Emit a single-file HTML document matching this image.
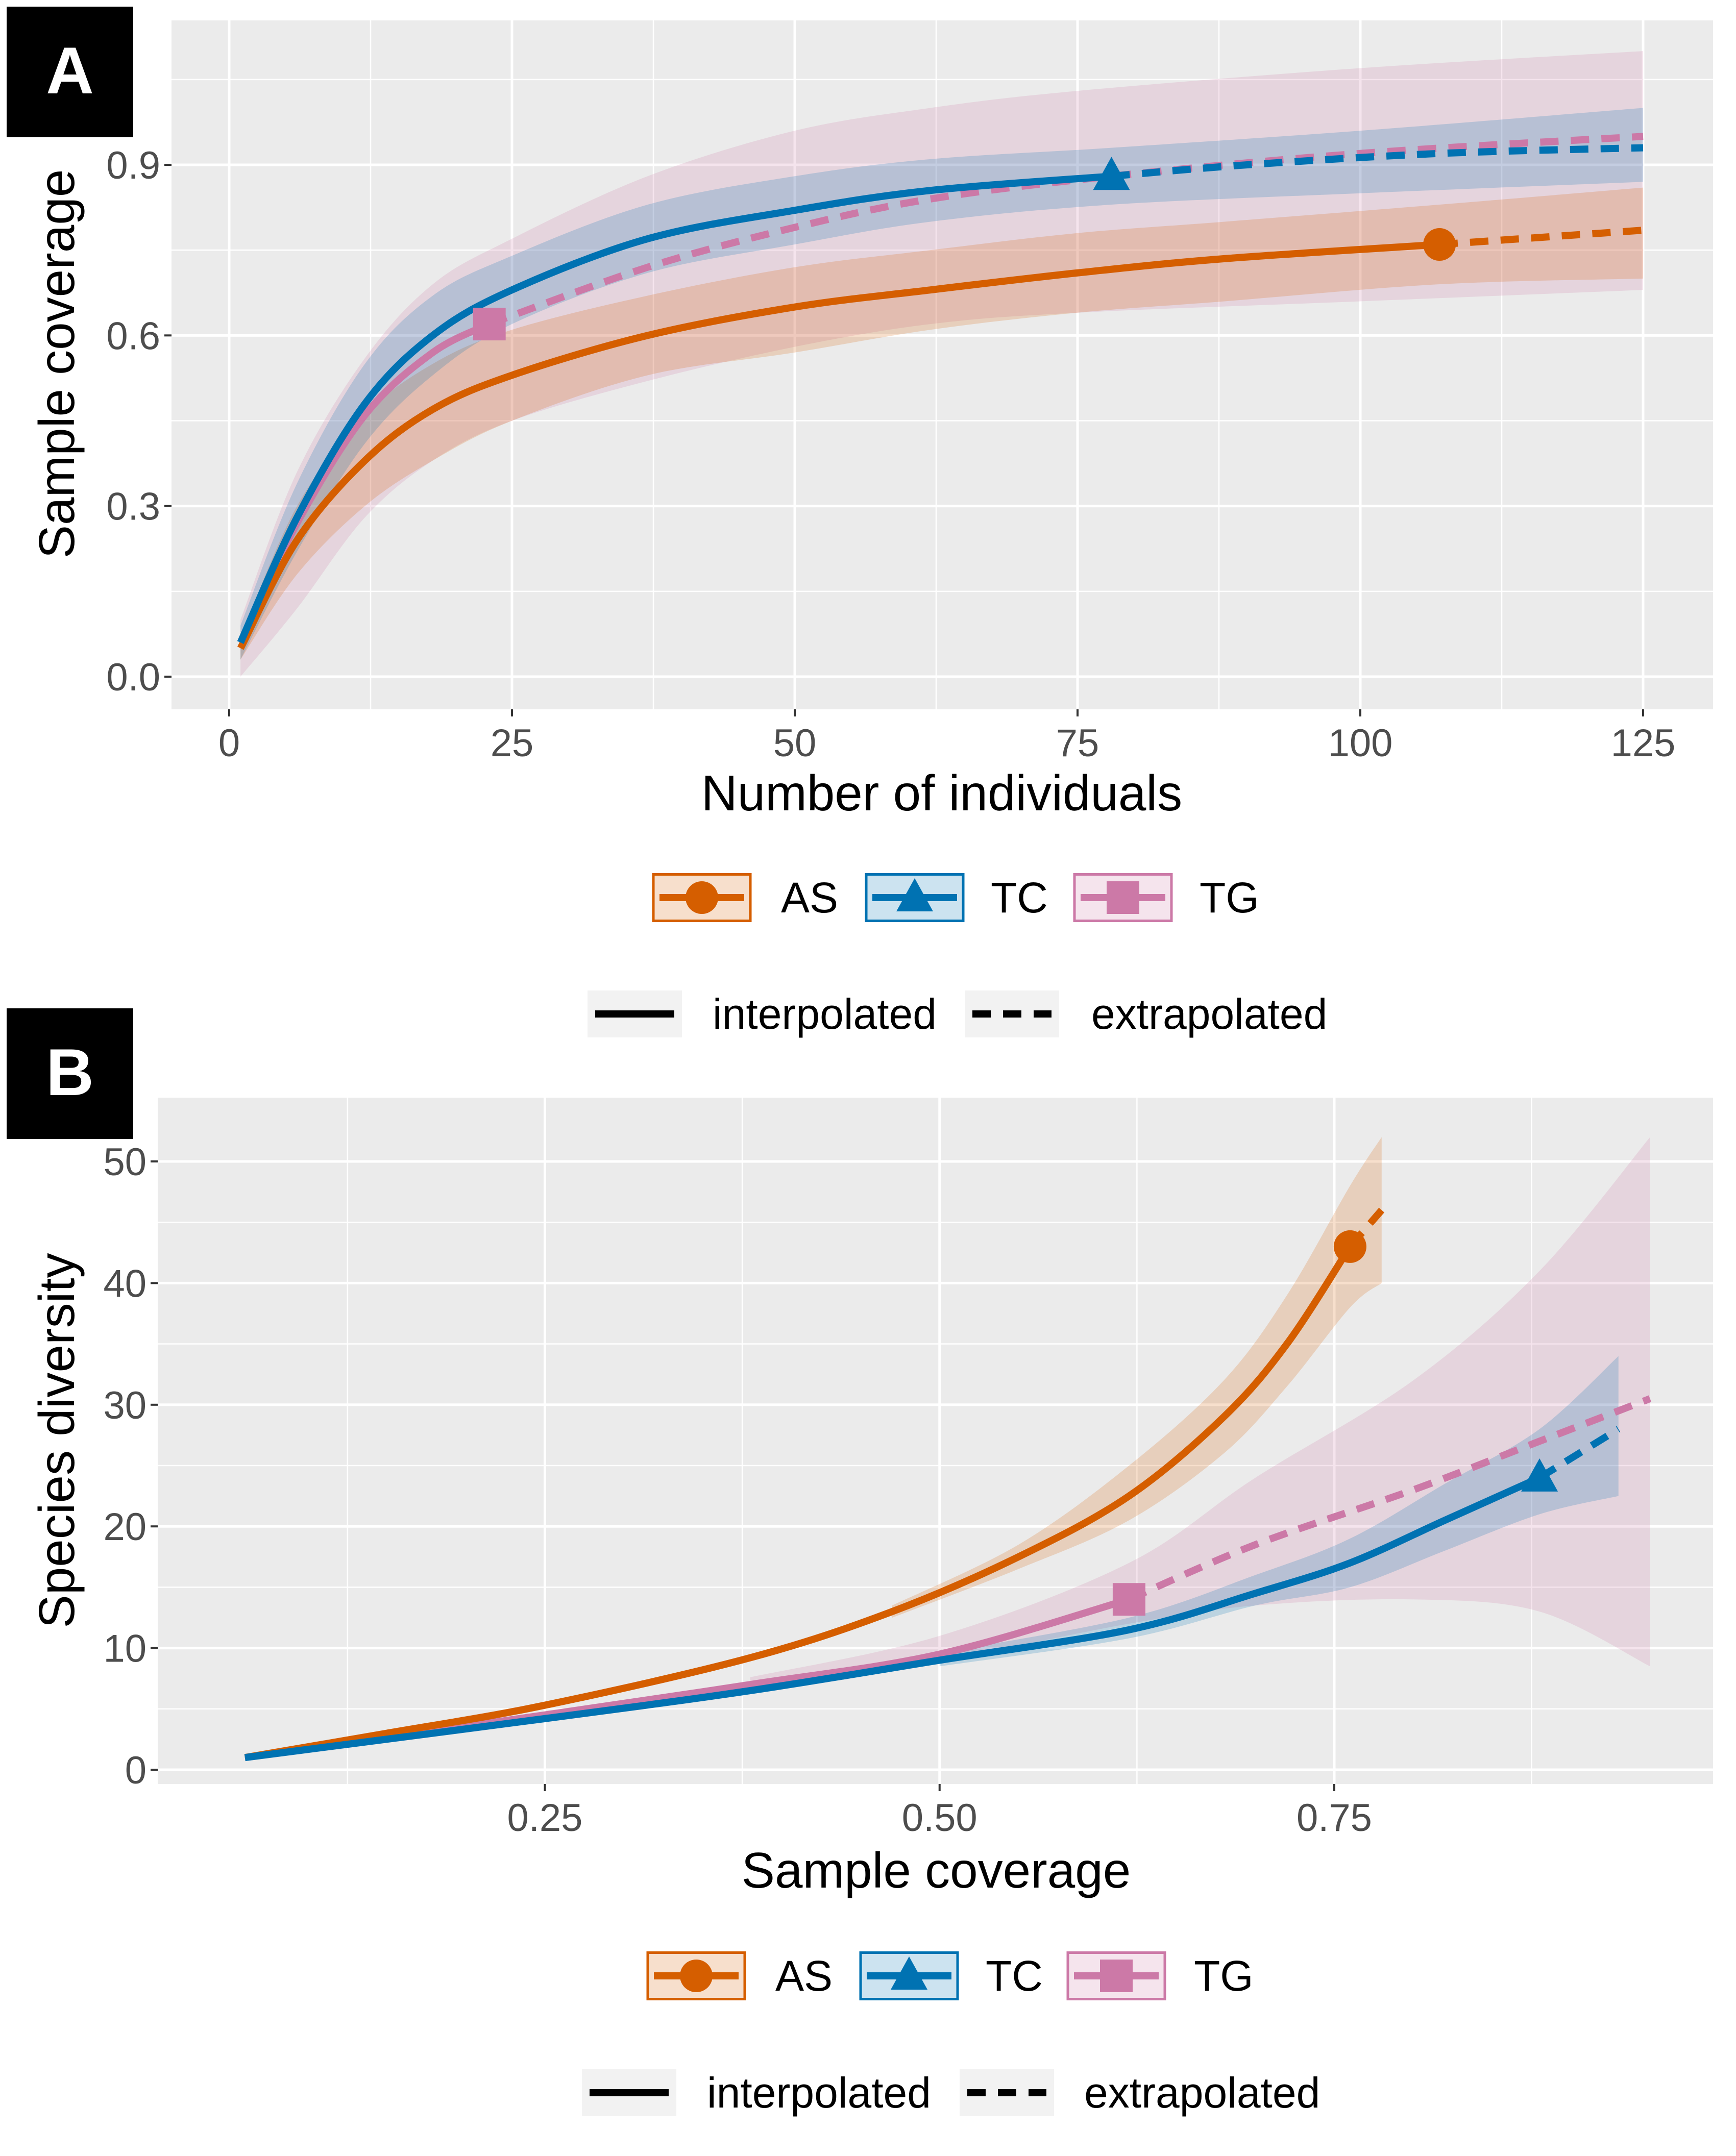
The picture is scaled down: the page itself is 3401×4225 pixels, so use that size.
<!DOCTYPE html>
<html><head><meta charset="utf-8">
<style>
html,body{margin:0;padding:0;background:#fff;}
svg{display:block;font-family:"Liberation Sans",sans-serif;}
</style></head>
<body>
<svg id="fig" width="3401" height="4225" viewBox="0 0 3401 4225" xmlns="http://www.w3.org/2000/svg">
<rect x="0" y="0" width="3401" height="4225" fill="#fff"/>
<g id="panelA"></g>
<g id="panelB"></g>
</svg>
<script>
// ---------- Panel A data ----------
const aAS_x = [1,6,12,18,25,37,50,62,75,88,107];
const aAS_y = [0.05,0.24,0.38,0.47,0.53,0.60,0.65,0.68,0.71,0.735,0.76];
const aAS_ex = [107,125];
const aAS_ey = [0.76,0.785];
const aAS_bx = [1,6,12,18,25,37,50,62,75,88,107,125];
const aAS_lo = [0.03,0.18,0.30,0.38,0.45,0.53,0.57,0.61,0.64,0.66,0.69,0.70];
const aAS_hi = [0.07,0.30,0.46,0.55,0.61,0.67,0.72,0.75,0.78,0.80,0.83,0.86];
const aTC_x = [1,6,12,18,25,37,50,62,78];
const aTC_y = [0.06,0.28,0.48,0.60,0.68,0.77,0.82,0.855,0.88];
const aTC_ex = [78,90,107,125];
const aTC_ey = [0.88,0.90,0.92,0.93];
const aTC_bx = [1,6,12,18,25,37,50,62,78,100,125];
const aTC_lo = [0.03,0.22,0.41,0.53,0.62,0.71,0.76,0.80,0.83,0.85,0.87];
const aTC_hi = [0.09,0.34,0.55,0.67,0.74,0.83,0.88,0.91,0.93,0.96,1.00];
const aTG_x = [1,6,12,18,23];
const aTG_y = [0.06,0.27,0.46,0.57,0.62];
const aTG_ex = [23,37,50,62,78,100,125];
const aTG_ey = [0.62,0.72,0.79,0.84,0.88,0.92,0.95];
const aTG_bx = [1,6,12,18,25,37,50,62,75,100,125];
const aTG_lo = [0.0,0.12,0.28,0.38,0.45,0.52,0.58,0.62,0.64,0.66,0.68];
const aTG_hi = [0.10,0.36,0.56,0.69,0.77,0.88,0.96,1.00,1.03,1.07,1.10];
const aXTicks = [0,25,50,75,100,125];
const aXMinor = [12.5,37.5,62.5,87.5,112.5];
const aYTicks = [0,0.3,0.6,0.9];
const aYLabels = ["0.0","0.3","0.6","0.9"];
const aYMinor = [0.15,0.45,0.75,1.05];

// ---------- Panel B data ----------
const bAS_x = [0.06,0.15,0.25,0.38,0.47,0.55,0.62,0.68,0.72,0.76];
const bAS_y = [1,3,5.3,9.2,13,17.5,22.5,29,35,43];
const bAS_ex = [0.76,0.78];
const bAS_ey = [43,46];
const bAS_bx = [0.47,0.55,0.62,0.68,0.72,0.76,0.78];
const bAS_lo = [12.5,16.5,20.5,26,31.5,38,40];
const bAS_hi = [13.5,18.5,25,32,39,48,52];
const bTC_x = [0.06,0.25,0.38,0.5,0.62,0.7,0.76,0.82,0.88];
const bTC_y = [1,4.2,6.5,9,11.5,14.5,17,20.5,24];
const bTC_ex = [0.88,0.93];
const bTC_ey = [24,28];
const bTC_bx = [0.5,0.62,0.7,0.76,0.82,0.88,0.93];
const bTC_lo = [8.5,10.8,13.5,15,18,21,22.5];
const bTC_hi = [9.6,12.5,16,19,23.5,28,34];
const bTG_x = [0.06,0.25,0.38,0.5,0.62];
const bTG_y = [1,4.5,7,9.5,14];
const bTG_ex = [0.62,0.7,0.8,0.88,0.95];
const bTG_ey = [14,18.5,23,27,30.5];
const bTG_bx = [0.38,0.5,0.62,0.7,0.8,0.88,0.95];
const bTG_lo = [6.8,9,12,13.5,14,13,8.5];
const bTG_hi = [7.6,11,17,24,32,41,52];
const bXTicks = [0.25,0.5,0.75];
const bXLabels = ["0.25","0.50","0.75"];
const bXMinor = [0.125,0.375,0.625,0.875];
const bYTicks = [0,10,20,30,40,50];
const bYMinor = [5,15,25,35,45];

const NS = "http://www.w3.org/2000/svg";
const C_AS = "#D55E00", C_TC = "#0072B2", C_TG = "#CC79A7";
const LW = 14;

function mk(parent, tag, attrs){
  const e = document.createElementNS(NS, tag);
  for (const k in attrs) e.setAttribute(k, attrs[k]);
  parent.appendChild(e);
  return e;
}
function smoothPath(pts){
  let d = "M" + pts[0][0] + "," + pts[0][1];
  for (let i = 0; i < pts.length - 1; i++){
    const p0 = pts[Math.max(0,i-1)], p1 = pts[i], p2 = pts[i+1], p3 = pts[Math.min(pts.length-1,i+2)];
    const c1x = p1[0] + (p2[0]-p0[0])/6, c1y = p1[1] + (p2[1]-p0[1])/6;
    const c2x = p2[0] - (p3[0]-p1[0])/6, c2y = p2[1] - (p3[1]-p1[1])/6;
    d += " C" + c1x + "," + c1y + " " + c2x + "," + c2y + " " + p2[0] + "," + p2[1];
  }
  return d;
}
function bandPath(xs, lo, hi, sx, sy){
  const top = xs.map((x,i)=>[sx(x), sy(hi[i])]);
  const bot = xs.map((x,i)=>[sx(x), sy(lo[i])]).reverse();
  let d = smoothPath(top);
  d += " L" + bot[0][0] + "," + bot[0][1];
  d += smoothPath(bot).replace(/^M[^C]*/, "");
  return d + " Z";
}
function marker(g, kind, cx, cy, color){
  let m;
  if (kind === "circle") m = mk(g, "circle", {cx:cx, cy:cy, r:32, fill:color});
  else if (kind === "triangle") m = mk(g, "polygon", {points:(cx)+","+(cy-38)+" "+(cx-36)+","+(cy+27)+" "+(cx+36)+","+(cy+27), fill:color});
  else m = mk(g, "rect", {x:cx-32, y:cy-32, width:64, height:64, fill:color});
  return m;
}

function drawPanel(g, cfg){
  const {px0,px1,py0,py1,sx,sy} = cfg;
  const bg = mk(g, "rect", {x:px0, y:py0, width:px1-px0, height:py1-py0, fill:"#EBEBEB"});
  
  
  cfg.xMinor.forEach(v=>{ const l = mk(g,"line",{x1:sx(v),x2:sx(v),y1:py0,y2:py1,stroke:"#fff","stroke-width":2.5});
      });
  cfg.yMinor.forEach(v=>{ const l = mk(g,"line",{x1:px0,x2:px1,y1:sy(v),y2:sy(v),stroke:"#fff","stroke-width":2.5});
      });
  cfg.xTicks.forEach((v,i)=>{
    const l = mk(g,"line",{x1:sx(v),x2:sx(v),y1:py0,y2:py1,stroke:"#fff","stroke-width":5});
     
    const t = mk(g,"line",{x1:sx(v),x2:sx(v),y1:py1,y2:py1+14,stroke:"#333","stroke-width":4});
     
    const tx = mk(g,"text",{x:sx(v), y:py1+92, "text-anchor":"middle","font-size":76, fill:"#4D4D4D"});
    tx.textContent = cfg.xLabels[i];
     
  });
  cfg.yTicks.forEach((v,i)=>{
    const l = mk(g,"line",{x1:px0,x2:px1,y1:sy(v),y2:sy(v),stroke:"#fff","stroke-width":5});
     
    const t = mk(g,"line",{x1:px0-14,x2:px0,y1:sy(v),y2:sy(v),stroke:"#333","stroke-width":4});
     
    const tx = mk(g,"text",{x:px0-22, y:sy(v)+27, "text-anchor":"end","font-size":76, fill:"#4D4D4D"});
    tx.textContent = cfg.yLabels[i];
     
  });
  const series = cfg.series;
  series.forEach(s=>{
    const b = mk(g,"path",{d:bandPath(s.bx,s.lo,s.hi,sx,sy), fill:s.color, "fill-opacity":0.2});
    
    
  });
  series.forEach(s=>{
    const e = mk(g,"path",{d:smoothPath(s.ex.map((x,i)=>[sx(x),sy(s.ey[i])])), fill:"none", stroke:s.color, "stroke-width":LW, "stroke-dasharray":"36 24"});
    
    
  });
  series.forEach(s=>{
    const p = mk(g,"path",{d:smoothPath(s.x.map((x,i)=>[sx(x),sy(s.y[i])])), fill:"none", stroke:s.color, "stroke-width":LW, "stroke-linejoin":"round"});
    
    
  });
  series.forEach(s=>{
    const n = s.x.length-1;
    const m = marker(g, s.marker, sx(s.x[n]), sy(s.y[n]), s.color);
    
    
  });
  const xt = mk(g,"text",{x:cfg.xtX, y:cfg.xtY, "text-anchor":"middle","font-size":98, fill:"#000"});
  xt.textContent = cfg.xTitle;
   
  const yt = mk(g,"text",{x:0, y:0, transform:"translate("+cfg.ytX+","+cfg.ytY+") rotate(-90)", "text-anchor":"middle","font-size":98, fill:"#000"});
  yt.textContent = cfg.yTitle;
   
  const tag = mk(g,"rect",{x:13, y:cfg.tagY, width:248, height:256, fill:"#000"});
   
  const tt = mk(g,"text",{x:137, y:cfg.tagY+170, "text-anchor":"middle","font-size":130,"font-weight":"bold", fill:"#fff"});
  tt.textContent = cfg.tag;
   
  const L = cfg.leg;
  const keys = [["AS",C_AS,"circle"],["TC",C_TC,"triangle"],["TG",C_TG,"square"]];
  keys.forEach((k,i)=>{
    const kx = L.keyX[i], w = 190, h = 91, ky = L.row1 - h/2;
    const lg = mk(g,"g",{});
    
    
    mk(lg,"rect",{x:kx, y:ky, width:w, height:h, fill:k[1], "fill-opacity":0.2, stroke:k[1], "stroke-width":5});
    mk(lg,"line",{x1:kx+12,x2:kx+w-12,y1:L.row1,y2:L.row1,stroke:k[1],"stroke-width":LW});
    marker(lg, k[2], kx+w/2, L.row1, k[1]);
    const t = mk(lg,"text",{x:L.labX[i], y:L.row1+29, "font-size":84, fill:"#000"});
    t.textContent = k[0];
  });
  const li = mk(g,"g",{});
   
  mk(li,"rect",{x:L.lineX, y:L.row2-46, width:185, height:92, fill:"#F2F2F2"});
  mk(li,"line",{x1:L.lineX+15,x2:L.lineX+170,y1:L.row2,y2:L.row2,stroke:"#000","stroke-width":LW});
  const ti = mk(li,"text",{x:L.interpX, y:L.row2+29, "font-size":84, fill:"#000"}); ti.textContent="interpolated";
  const le = mk(g,"g",{});
   
  mk(le,"rect",{x:L.dashX, y:L.row2-46, width:185, height:92, fill:"#F2F2F2"});
  mk(le,"line",{x1:L.dashX+15,x2:L.dashX+170,y1:L.row2,y2:L.row2,stroke:"#000","stroke-width":LW,"stroke-dasharray":"36 24"});
  const te = mk(le,"text",{x:L.extrapX, y:L.row2+29, "font-size":84, fill:"#000"}); te.textContent="extrapolated";
}

const aSx = v => 449 + (3219-449)*v/125;
const aSy = v => 1326 - (1326-323)*v/0.9;
drawPanel(document.getElementById("panelA"), {
  px0:336, px1:3356, py0:40, py1:1390, sx:aSx, sy:aSy,
  xTicks:aXTicks, xLabels:aXTicks.map(String), xMinor:aXMinor,
  yTicks:aYTicks, yLabels:aYLabels, yMinor:aYMinor,
  series:[
    {name:"TG",color:C_TG,marker:"square",x:aTG_x,y:aTG_y,ex:aTG_ex,ey:aTG_ey,bx:aTG_bx,lo:aTG_lo,hi:aTG_hi},
    {name:"AS",color:C_AS,marker:"circle",x:aAS_x,y:aAS_y,ex:aAS_ex,ey:aAS_ey,bx:aAS_bx,lo:aAS_lo,hi:aAS_hi},
    {name:"TC",color:C_TC,marker:"triangle",x:aTC_x,y:aTC_y,ex:aTC_ex,ey:aTC_ey,bx:aTC_bx,lo:aTC_lo,hi:aTC_hi}
  ],
  xTitle:"Number of individuals", xtX:1845, xtY:1588,
  yTitle:"Sample coverage", ytX:145, ytY:713,
  tag:"A", tagY:13,
  leg:{row1:1759,row2:1987,keyX:[1280,1697,2105],labX:[1530,1941,2350],lineX:1151,interpX:1396,dashX:1890,extrapX:2138}
});
const bSx = v => 1067.5 + (2614-1067.5)*(v-0.25)/0.5;
const bSy = v => 3468 - (3468-2276)*v/50;
drawPanel(document.getElementById("panelB"), {
  px0:309, px1:3356, py0:2151, py1:3496, sx:bSx, sy:bSy,
  xTicks:bXTicks, xLabels:bXLabels, xMinor:bXMinor,
  yTicks:bYTicks, yLabels:bYTicks.map(String), yMinor:bYMinor,
  series:[
    {name:"TG",color:C_TG,marker:"square",x:bTG_x,y:bTG_y,ex:bTG_ex,ey:bTG_ey,bx:bTG_bx,lo:bTG_lo,hi:bTG_hi},
    {name:"AS",color:C_AS,marker:"circle",x:bAS_x,y:bAS_y,ex:bAS_ex,ey:bAS_ey,bx:bAS_bx,lo:bAS_lo,hi:bAS_hi},
    {name:"TC",color:C_TC,marker:"triangle",x:bTC_x,y:bTC_y,ex:bTC_ex,ey:bTC_ey,bx:bTC_bx,lo:bTC_lo,hi:bTC_hi}
  ],
  xTitle:"Sample coverage", xtX:1834, xtY:3699,
  yTitle:"Species diversity", ytX:145, ytY:2823,
  tag:"B", tagY:1976,
  leg:{row1:3872,row2:4101,keyX:[1269,1686,2092],labX:[1519,1931,2339],lineX:1140,interpX:1385,dashX:1880,extrapX:2124}
});
</script>
</body></html>
